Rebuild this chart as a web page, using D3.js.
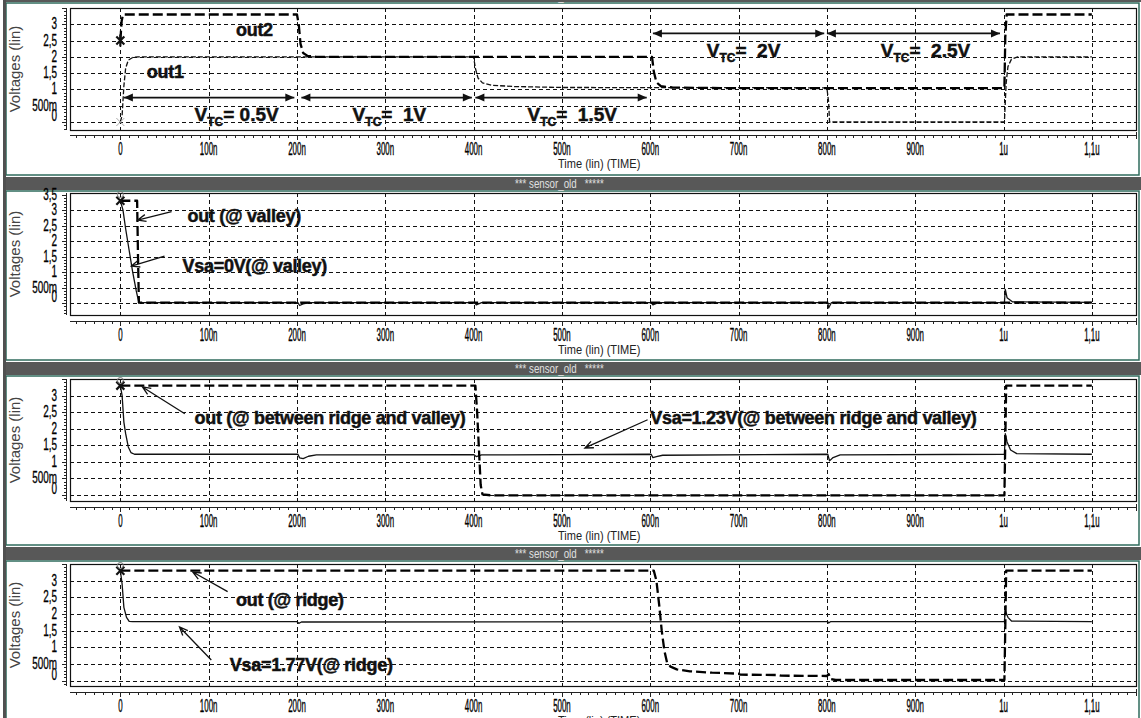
<!DOCTYPE html>
<html>
<head>
<meta charset="utf-8">
<script src="https://cdn.jsdelivr.net/npm/d3@7"></script>
<style>
  body { margin: 0; background: #fff; }
  svg { display: block; }
  text { font-family: "Liberation Sans", Arial, sans-serif; }
</style>
</head>
<body>
<script>
// time in ns, voltages in V
const timeTicks = [0, 100, 200, 300, 400, 500, 600, 700, 800, 900, 1000, 1100];
const timeLabels = ["0", "100n", "200n", "300n", "400n", "500n", "600n", "700n", "800n", "900n", "1u", "1,1u"];
const voltTicks = [0, 0.5, 1, 1.5, 2, 2.5, 3];
const voltLabels = ["0", "500m", "1", "1,5", "2", "2,5", "3"];
const panelTitles = ["*** sensor_old   *****", "*** sensor_old   *****", "*** sensor_old   *****", "*** sensor_old   *****"];

// panel 1 : out1 / out2 for the VTC steps
const p1Out2 = [[0,2.5],[1.5,3.1],[3,3.3],[200,3.3],[202,3.0],[204,2.4],[207,2.12],[212,2.03],[222,2.0],[602,2.0],[604,1.55],[607,1.22],[612,1.1],[625,1.06],[680,1.04],[1001,1.04],[1002,2.6],[1003.5,3.3],[1100,3.3]];
const p1Out1 = [[0,0],[2,0.2],[4,1.1],[6,1.65],[9,1.9],[14,1.98],[20,2.0],[400,2.0],[402,1.65],[405,1.35],[410,1.2],[420,1.13],[445,1.09],[500,1.06],[800,1.05],[802,0.6],[803,0],[1001,0],[1003,1.2],[1005,1.7],[1009,1.93],[1016,2.0],[1100,2.0]];
// panel 2 : valley
const p2Out = [[0,3.3],[19,3.3],[20,1.5],[21,0.02],[1100,0.02]];
const p2Vsa = [[0,3.3],[3,3.0],[6,2.4],[10,1.7],[14,1.0],[18,0.4],[21,0.02],[201,0.02],[203,-0.07],[207,-0.02],[214,0.02],[401,0.02],[403,-0.05],[409,0.02],[601,0.02],[603,-0.05],[609,0.02],[801,0.02],[802,-0.15],[805,0.02],[1001,0.02],[1002,0.45],[1004,0.18],[1010,0.05],[1100,0.03]];
// panel 3 : between ridge and valley
const p3Out = [[0,3.3],[402,3.3],[404,2.5],[406,1.4],[408,0.3],[410,0.02],[420,-0.01],[1001,-0.01],[1002,1.6],[1003,3.3],[1100,3.3]];
const p3Vsa = [[0,3.3],[2,3.0],[4,2.2],[6,1.85],[9,1.45],[12,1.28],[16,1.23],[201,1.23],[203,1.12],[207,1.1],[213,1.17],[222,1.21],[400,1.22],[403,1.16],[409,1.21],[601,1.23],[603,1.13],[607,1.16],[614,1.2],[801,1.23],[803,1.03],[807,1.13],[815,1.21],[1001,1.23],[1002,1.85],[1004,1.6],[1008,1.36],[1015,1.25],[1100,1.23]];
// panel 4 : ridge
const p4Out = [[0,3.3],[604,3.3],[607,3.0],[610,2.3],[613,1.5],[616,0.9],[619,0.55],[623,0.42],[630,0.34],[645,0.28],[670,0.24],[700,0.21],[702,0.18],[745,0.17],[748,0.15],[800,0.14],[802,0.2],[804,0.05],[810,0.02],[1001,0.02],[1002,1.6],[1003,3.3],[1100,3.3]];
const p4Vsa = [[0,3.3],[2,2.9],[4,2.2],[7,1.9],[10,1.78],[14,1.77],[200,1.77],[202,1.72],[205,1.76],[801,1.77],[802,1.73],[804,1.77],[1001,1.77],[1002,2.1],[1005,1.9],[1009,1.79],[1100,1.77]];

// VTC step annotations (panel 1)
const vtcSpans = [[4,197],[205,398],[402,596],[603,797],[800,996]];
const vtcLevels = [0.75, 0.75, 0.75, 2.72, 2.72];
const vtcValues = ["= 0.5V", "=  1V", "=  1.5V", "=  2V", "=  2.5V"];
const vtcAnchors = [[84,0.03],[263,0.03],[461,0.03],[664,1.99],[861,1.99]];

const W = 1141, H = 718;
const svg = d3.select("body").append("svg").attr("width", W).attr("height", H);

const x0 = 70, x1 = 1136;
const x = d3.scaleLinear().domain([-57, 1150]).range([x0, x1]);

const panels = [
  { barTop: -11, plotTop: 8, plotBottom: 130, yMin: -0.245, yMax: 3.5, ruler: 135, frameBottom: 175,
    traces: [{ d: p1Out1, style: "thin" }, { d: p1Out2, style: "thick" }],
    labels: [{ text: "out2", t: 131, v: 2.64 }, { text: "out1", t: 30, v: 1.35 }] },
  { barTop: 177, plotTop: 193, plotBottom: 315, yMin: -0.376, yMax: 3.55, ruler: 321, frameBottom: 360, extraTop: true,
    traces: [{ d: p2Vsa, style: "solid" }, { d: p2Out, style: "thick" }],
    labels: [{ text: "out (@ valley)", t: 76, v: 2.61, from: [58, 2.95], to: [19.6, 2.68] },
             { text: "Vsa=0V(@ valley)", t: 70.5, v: 1.0, from: [50, 1.52], to: [12.5, 1.2] }] },
  { barTop: 362, plotTop: 379, plotBottom: 501, yMin: -0.18, yMax: 3.5, ruler: 507, frameBottom: 545,
    traces: [{ d: p3Vsa, style: "solid" }, { d: p3Out, style: "thick" }],
    labels: [{ text: "out (@ between ridge and valley)", t: 84, v: 2.14, from: [73, 2.45], to: [25, 3.26] },
             { text: "Vsa=1.23V(@ between ridge and valley)", t: 600, v: 2.14, from: [597, 2.27], to: [526, 1.42] }] },
  { barTop: 547, plotTop: 564, plotBottom: 686, yMin: -0.16, yMax: 3.5, ruler: 692, frameBottom: 740,
    traces: [{ d: p4Vsa, style: "solid" }, { d: p4Out, style: "thick" }],
    labels: [{ text: "out (@ ridge)", t: 131, v: 2.24, from: [121.5, 2.67], to: [82, 3.26] },
             { text: "Vsa=1.77V(@ ridge)", t: 124, v: 0.29, from: [103, 0.62], to: [67, 1.61] }] }
];

const styles = {
  thick: { w: 2.3, dash: "10,4", c: "#000" },
  thin: { w: 1.3, dash: "5,2", c: "#111" },
  solid: { w: 1.3, dash: null, c: "#111" }
};

const defs = svg.append("defs");

panels.forEach((p, i) => {
  const g = svg.append("g");
  const y = d3.scaleLinear().domain([p.yMin, p.yMax]).range([p.plotBottom, p.plotTop]);

  // frame + header bar
  g.append("rect").attr("x", 6).attr("y", p.barTop + 14).attr("width", 1133)
    .attr("height", p.frameBottom - p.barTop - 14).attr("fill", "#fff")
    .attr("stroke", "#2f6b5c").attr("stroke-width", 1.5);
  g.append("rect").attr("x", 6).attr("y", p.barTop).attr("width", W - 6).attr("height", 13).attr("fill", "#585858");
  g.append("text").attr("transform", `translate(515,${p.barTop + 11}) scale(0.78,1)`)
    .attr("font-size", 12.5).attr("fill", "#e0e0e0").style("white-space", "pre").text(panelTitles[i]);

  // grid
  const grid = g.append("g").attr("stroke", "#111").attr("stroke-width", 1).attr("stroke-dasharray", "4,3")
    .attr("shape-rendering", "crispEdges");
  grid.selectAll(".h").data(voltTicks).join("line")
    .attr("x1", x0).attr("x2", x1).attr("y1", d => Math.round(y(d)) + 0.5).attr("y2", d => Math.round(y(d)) + 0.5);
  grid.selectAll(".v").data(timeTicks).join("line")
    .attr("y1", p.plotTop).attr("y2", p.plotBottom).attr("x1", d => Math.round(x(d)) + 0.5).attr("x2", d => Math.round(x(d)) + 0.5);

  // traces
  const clipId = "clip" + i;
  defs.append("clipPath").attr("id", clipId).append("rect")
    .attr("x", x0).attr("y", p.plotTop).attr("width", x1 - x0).attr("height", p.plotBottom - p.plotTop);
  const line = d3.line().x(d => x(d[0])).y(d => y(d[1]));
  p.traces.forEach(tr => {
    const s = styles[tr.style];
    g.append("path").attr("clip-path", `url(#${clipId})`).attr("d", line(tr.d)).attr("fill", "none")
      .attr("stroke", s.c).attr("stroke-width", s.w).attr("stroke-dasharray", s.dash)
      .attr("stroke-linejoin", "round");
  });

  // plot box
  g.append("rect").attr("x", x0 + 0.5).attr("y", p.plotTop + 0.5).attr("width", x1 - x0).attr("height", p.plotBottom - p.plotTop)
    .attr("fill", "none").attr("stroke", "#111").attr("stroke-width", 1.2);

  // left ruler with minor ticks
  const lr = g.append("g").attr("stroke", "#222").attr("shape-rendering", "crispEdges");
  lr.append("line").attr("x1", 66.5).attr("x2", 66.5).attr("y1", p.plotTop).attr("y2", p.plotBottom);
  d3.range(Math.ceil(p.yMin * 10), Math.floor(p.yMax * 10) + 1).forEach(k => {
    const major = k % 5 === 0;
    lr.append("line").attr("x1", major ? 62 : 64).attr("x2", 66.5)
      .attr("y1", Math.round(y(k / 10)) + 0.5).attr("y2", Math.round(y(k / 10)) + 0.5);
  });

  // y tick labels
  const yt = voltTicks.map((v, k) => ({ v, l: voltLabels[k] }));
  if (p.extraTop) yt.push({ v: 3.5, l: "3,5" });
  g.selectAll(".yl").data(yt).join("text")
    .attr("transform", d => `translate(57,${y(d.v) + 5 - (d.v === 0 ? 6 : 0)}) scale(0.62,1)`)
    .attr("text-anchor", "end").attr("font-size", 16).attr("fill", "#000")
    .attr("stroke", "#000").attr("stroke-width", 0.3).text(d => d.l);
  g.append("text").attr("transform", `translate(20,${(p.plotTop + p.plotBottom) / 2}) rotate(-90)`)
    .attr("text-anchor", "middle").attr("font-size", 15).attr("fill", "#444").text("Voltages (lin)");

  // bottom time ruler
  const br = g.append("g").attr("stroke", "#222").attr("shape-rendering", "crispEdges");
  br.append("line").attr("x1", x0).attr("x2", x1).attr("y1", p.ruler + 0.5).attr("y2", p.ruler + 0.5);
  br.append("line").attr("x1", x1 + 0.5).attr("x2", x1 + 0.5).attr("y1", p.ruler - 3).attr("y2", p.ruler + 4);
  d3.range(-50, 1151, 10).forEach(t => {
    br.append("line").attr("x1", Math.round(x(t)) + 0.5).attr("x2", Math.round(x(t)) + 0.5)
      .attr("y1", p.ruler).attr("y2", p.ruler + (t % 100 === 0 ? 5 : 3));
  });
  g.selectAll(".xl").data(timeTicks).join("text")
    .attr("transform", (d, k) => `translate(${x(d)},${p.ruler + 20}) scale(0.44,1)`)
    .attr("text-anchor", "middle").attr("font-size", 18).attr("fill", "#000")
    .attr("stroke", "#000").attr("stroke-width", 0.4).text((d, k) => timeLabels[k]);
  g.append("text").attr("transform", `translate(558,${p.ruler + 33}) scale(0.85,1)`)
    .attr("font-size", 13).attr("fill", "#222").text("Time (lin) (TIME)");

  // start markers
  const mk = (t, v, c, w, star) => {
    const cx = x(t), cy = y(v), r = 4;
    g.append("path").attr("d", `M${cx - r},${cy - r}L${cx + r},${cy + r}M${cx - r},${cy + r}L${cx + r},${cy - r}` + (star ? `M${cx},${cy - r - 2}L${cx},${cy + r + 2}` : ""))
      .attr("stroke", c).attr("stroke-width", w).attr("fill", "none");
  };
  if (i === 0) {
    mk(0, 2.5, "#111", 2.2, true);
    mk(0, 0, "#aaa", 1, false);
  } else {
    mk(0, 3.3, "#111", 2.2, false);
    g.append("circle").attr("cx", x(0)).attr("cy", p.plotTop + 1.5).attr("r", 3)
      .attr("fill", "none").attr("stroke", "#777").attr("stroke-width", 1);
  }

  // callout labels and arrows
  p.labels.forEach(lb => {
    g.append("text").attr("x", x(lb.t)).attr("y", y(lb.v)).attr("font-size", 18).attr("font-weight", "bold")
      .attr("letter-spacing", -0.3).attr("fill", "#111").attr("stroke", "#111").attr("stroke-width", 0.5).text(lb.text);
    if (lb.from) {
      const fx = x(lb.from[0]), fy = y(lb.from[1]), tx = x(lb.to[0]), ty = y(lb.to[1]);
      const a = Math.atan2(fy - ty, fx - tx), L = 9, s = 0.4;
      g.append("path").attr("d", `M${fx},${fy}L${tx},${ty}M${tx + L * Math.cos(a - s)},${ty + L * Math.sin(a - s)}L${tx},${ty}L${tx + L * Math.cos(a + s)},${ty + L * Math.sin(a + s)}`)
        .attr("fill", "none").attr("stroke", "#111").attr("stroke-width", 1.3);
    }
  });

  if (i === 0) {
    vtcSpans.forEach((sp, k) => {
      const ax = x(sp[0]), bx = x(sp[1]), yy = y(vtcLevels[k]);
      g.append("line").attr("x1", ax).attr("x2", bx).attr("y1", yy).attr("y2", yy).attr("stroke", "#111").attr("stroke-width", 1.6);
      g.append("path").attr("d", `M${ax},${yy}l9,-4l0,8z M${bx},${yy}l-9,-4l0,8z`).attr("fill", "#111");
      const t = g.append("text").attr("x", x(vtcAnchors[k][0])).attr("y", y(vtcAnchors[k][1]))
        .attr("font-weight", "bold").attr("fill", "#111").attr("stroke", "#111").attr("stroke-width", 0.5)
        .style("white-space", "pre");
      t.append("tspan").attr("font-size", 19).text("V");
      t.append("tspan").attr("font-size", 12).attr("dy", 5).text("TC");
      t.append("tspan").attr("font-size", 19).attr("dy", -5).text(vtcValues[k]);
    });
  }
});

// window left border
svg.append("rect").attr("x", 3).attr("y", 0).attr("width", 3).attr("height", H).attr("fill", "#505050");
</script>
</body>
</html>
